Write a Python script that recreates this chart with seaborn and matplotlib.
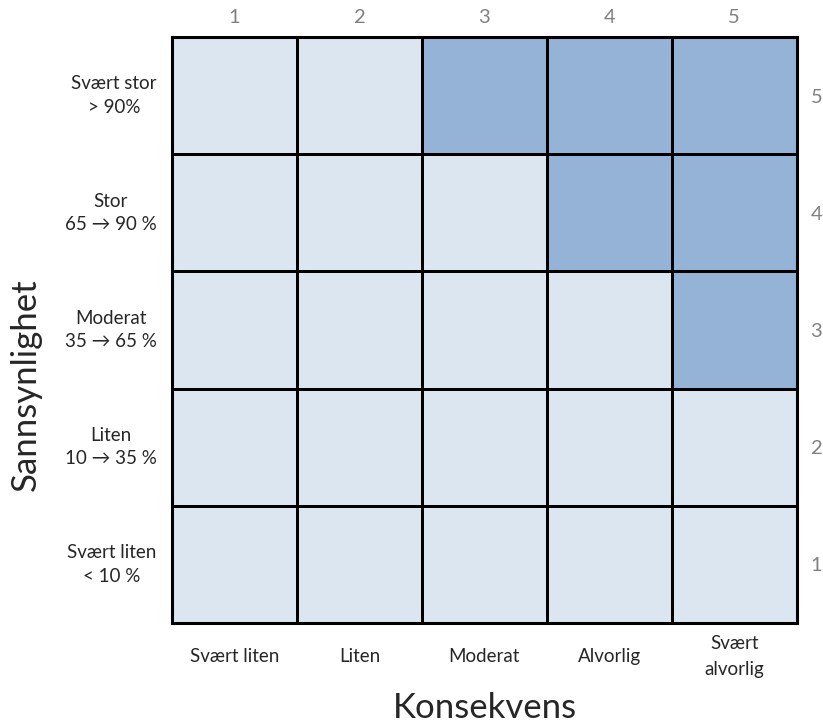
import matplotlib
matplotlib.use('Agg')
import matplotlib.pyplot as plt
from matplotlib.colors import ListedColormap
import numpy as np
import seaborn as sns

consequence = ['Svært liten', 'Liten', 'Moderat', 'Alvorlig', 'Svært\nalvorlig']
probability = ['Svært stor\n> 90%', 'Stor\n65 \u2192 90 %', 'Moderat\n35 \u2192 65 %',
               'Liten\n10 \u2192 35 %', 'Svært liten\n< 10 %']
cons_numbers = ['1', '2', '3', '4', '5']
prob_numbers = ['5', '4', '3', '2', '1']

# 0 = low risk, 1 = high risk (rows from top: probability 5 -> 1)
risk = np.array([
    [0, 0, 1, 1, 1],
    [0, 0, 0, 1, 1],
    [0, 0, 0, 0, 1],
    [0, 0, 0, 0, 0],
    [0, 0, 0, 0, 0],
])

sns.set_style('white')
plt.rcParams['font.family'] = ['Lato', 'DejaVu Sans']

fig = plt.figure(figsize=(8.23, 7.24), dpi=100)
ax = fig.add_axes([0.209, 0.1395, 0.759, 0.8094])

cmap = ListedColormap(['#dce6f1', '#95b3d7'])
sns.heatmap(risk, ax=ax, cmap=cmap, vmin=0, vmax=1, cbar=False,
            linewidths=2, linecolor='black', square=False)

for s in ax.spines.values():
    s.set_visible(True)
    s.set_linewidth(2.2)
    s.set_color('black')

# bottom / left descriptive labels
ax.set_xticks(np.arange(5) + 0.5)
ax.set_xticklabels(consequence, fontsize=13.5, va='center', ha='center',
                   multialignment='center', rotation=0, linespacing=1.6)
ax.set_yticks(np.arange(5) + 0.5)
ax.set_yticklabels(probability, fontsize=13.5, va='center', ha='right',
                   multialignment='center', rotation=0, linespacing=1.45)
ax.tick_params(axis='x', length=0, pad=24)
ax.tick_params(axis='y', length=0, pad=11)

# top / right numbers
axt = ax.secondary_xaxis('top')
axt.set_xticks(np.arange(5) + 0.5)
axt.set_xticklabels(cons_numbers, fontsize=14.5, color='#808080')
axt.tick_params(length=0, pad=8)
axt.spines['top'].set_visible(False)

axr = ax.secondary_yaxis('right')
axr.set_yticks(np.arange(5) + 0.5)
axr.set_yticklabels(prob_numbers, fontsize=14.5, color='#808080')
axr.tick_params(length=0, pad=10)
axr.spines['right'].set_visible(False)

ax.set_xlabel('')
ax.set_ylabel('')
fig.text(0.589, 0.022, 'Konsekvens', fontsize=25, ha='center', va='center')
fig.text(0.031, 0.468, 'Sannsynlighet', fontsize=25, ha='center', va='center',
         rotation=90)

fig.savefig('out.png', dpi=100)
